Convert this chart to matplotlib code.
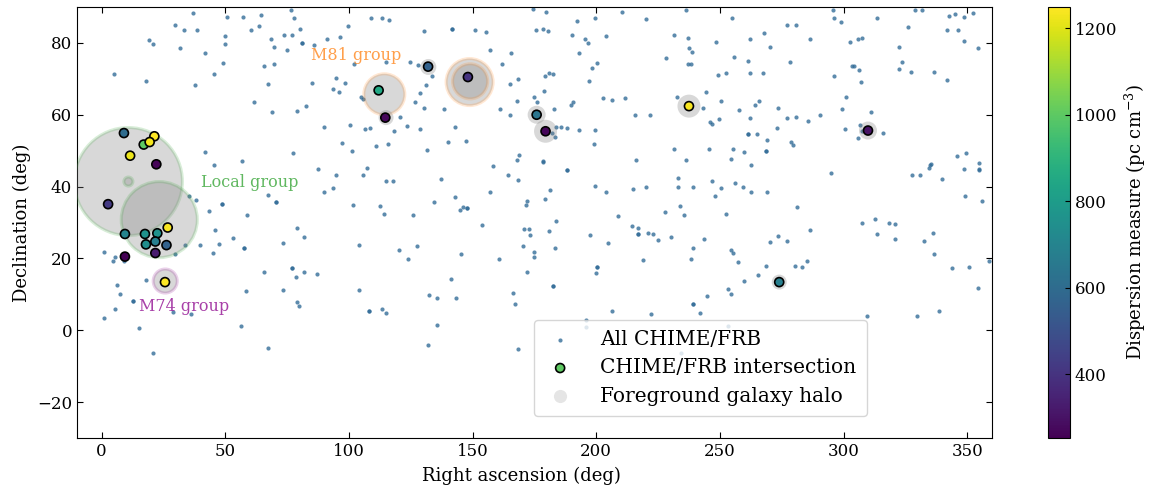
import matplotlib
matplotlib.use('Agg')
import matplotlib.pyplot as plt
from matplotlib.colors import to_rgba

# ---------------- data ----------------
all_ra = [36.8, 50.8, 57.3, 64.3, 29.8, 33.4, 38.7, 50.0, 60.5, 63.8, 19.3, 20.9, 31.8, 41.7, 49.7, 48.9,
          5.1, 18.1, 45.6, 37.7, 61.6, 41.9, 45.4, 56.9, 35.5, 38.3, 48.7, 48.7, 43.4, 58.9, 45.7, 53.2,
          57.6, 57.6, 33.6, 39.6, 47.4, 45.2, 29.7, 1.0, 5.3, 4.5, 9.2, 6.3, 7.3, 17.8, 12.5, 12.5, 5.4,
          0.8, 29.0, 36.1, 58.2, 15.1, 56.3, 20.8,
          76.7, 77.6, 80.1, 73.9, 76.8, 68.3, 81.2, 81.2, 86.0, 91.1, 96.4, 99.6, 69.8, 75.0, 65.5, 69.6,
          108.8, 113.4, 116.3, 130.3, 124.5, 127.8, 115.1, 102.0, 94.8, 93.5, 96.1, 98.3, 85.2, 67.1,
          105.0, 105.8, 133.6, 131.0, 128.9, 126.7, 130.5, 138.3, 68.8, 79.1, 82.5, 89.9, 100.3, 106.5,
          108.4, 120.5, 118.2, 123.6, 128.9, 110.8, 115.9, 131.7, 97.2, 101.1, 77.4, 87.5, 94.9, 105.8,
          107.3, 114.8, 117.8, 137.1, 90.0, 93.4, 67.1, 70.5, 70.5, 101.5, 112.4, 114.3, 125.8, 134.3,
          78.9, 81.7, 73.2, 104.2, 120.2, 124.0, 127.4, 65.8, 77.1, 77.1, 78.6, 81.8, 87.2, 73.2, 104.2,
          132.5, 135.6, 78.9, 79.7, 108.0, 108.0, 113.4, 115.0, 135.5, 67.1, 131.8,
          174.6, 179.8, 141.5, 141.5, 150.8, 155.6, 175.8, 178.6, 180.4, 192.1, 199.5, 210.3, 190.1,
          195.6, 196.7, 203.8, 156.9, 165.4, 193.0, 161.8, 200.3, 198.4, 179.4, 180.8, 182.4, 168.2,
          165.1, 196.9, 178.7, 174.7, 175.9, 190.6, 189.9, 202.7, 206.2, 211.8, 168.1, 161.2, 165.0,
          182.9, 142.9, 183.9, 185.7, 188.2, 193.0, 199.4, 182.1, 183.3, 139.9, 147.5, 198.9, 168.9,
          167.8, 178.5, 178.5, 158.1, 188.3, 188.3, 164.5, 168.2, 199.4, 203.9, 157.2, 181.2, 179.1,
          143.0, 144.9, 146.1, 147.9, 147.9, 172.1, 171.7, 183.9, 208.8, 153.9, 170.9, 172.7, 173.2,
          181.0, 197.6, 204.7, 170.5, 183.5, 145.4, 174.8, 175.0, 160.5, 172.0, 200.4, 200.4, 199.8,
          141.4, 182.5, 182.5, 143.3, 166.5, 167.3, 206.5, 195.9, 195.7, 168.2,
          236.3, 220.1, 255.0, 277.3, 280.9, 231.6, 237.1, 268.0, 262.0, 248.3, 270.4, 237.6, 238.7,
          228.3, 255.7, 261.5, 278.5, 237.1, 238.2, 252.5, 249.1, 262.0, 267.6, 244.5, 232.5, 250.3,
          243.3, 265.9, 264.2, 273.4, 215.5, 221.6, 257.9, 249.6, 246.1, 246.8, 262.0, 277.3, 280.9,
          285.8, 273.2, 261.4, 261.4, 265.0, 269.2, 268.6, 268.6, 278.9, 279.6, 231.4, 245.6, 255.2,
          236.2, 216.2, 254.5, 259.7, 262.7, 233.1, 246.8, 256.2, 259.5, 233.2, 239.0, 220.3, 215.0,
          250.3, 262.6, 269.0, 247.9, 233.7, 235.5, 227.7, 252.3, 281.0, 214.5, 216.9, 216.9, 216.9,
          221.1, 222.8, 225.0, 230.4, 243.7, 239.0, 254.5, 255.4, 257.2, 273.4, 270.4, 277.0, 238.2,
          218.8, 268.5, 280.4, 283.1, 285.4, 265.5, 259.9, 253.3, 254.5, 244.7, 239.3, 239.3, 241.8,
          222.1, 253.3, 234.4,
          295.6, 296.0, 298.8, 286.6, 302.6, 306.0, 307.3, 303.3, 304.4, 306.4, 307.1, 296.1, 301.1,
          299.4, 290.3, 300.5, 311.2, 306.8, 307.5, 306.0, 315.8, 313.5, 326.2, 328.8, 331.7, 322.3,
          323.8, 322.3, 327.4, 336.6, 342.0, 342.0, 346.4, 342.8, 345.1, 348.7, 352.5, 348.7, 354.4,
          295.1, 327.9, 330.8, 335.0, 335.2, 334.7, 339.8, 345.7, 349.4, 348.7, 354.8, 354.9, 354.9,
          349.2, 356.1, 286.3, 307.6, 312.7, 313.7, 318.2, 320.7, 320.9, 332.5, 336.3, 336.7, 344.0,
          350.7, 354.5, 358.8, 309.5, 329.6, 338.6]
all_dec = [88.3, 87.1, 87.3, 87.7, 84.9, 83.6, 83.6, 82.0, 83.5, 84.8, 80.9, 79.8, 78.5, 77.2, 79.6, 74.4,
           71.3, 69.5, 71.3, 68.3, 63.5, 49.7, 46.1, 47.0, 37.5, 36.3, 35.2, 35.2, 33.2, 32.0, 27.9, 25.8,
           22.8, 22.8, 23.7, 23.7, 24.1, 21.4, 21.1, 21.9, 20.5, 19.2, 19.3, 12.7, 10.2, 14.1, 8.2, 8.2, 6.0,
           3.5, 5.1, 4.6, 10.9, 0.6, 1.2, -6.4,
           89.3, 87.0, 83.9, 82.1, 82.2, 81.1, 80.1, 80.1, 79.5, 81.0, 81.6, 84.8, 79.0, 78.1, 73.6, 74.1,
           87.0, 87.0, 86.4, 83.2, 74.8, 73.9, 74.8, 74.1, 70.2, 67.2, 66.2, 68.7, 68.7, 68.6,
           64.9, 64.3, 70.9, 68.4, 66.1, 63.6, 62.0, 61.7, 60.7, 61.1, 62.4, 56.6, 57.1, 56.1,
           56.3, 59.4, 55.6, 56.9, 56.1, 51.3, 51.8, 50.2, 52.1, 49.8, 49.4, 44.8, 43.2, 43.1,
           45.1, 41.6, 41.6, 42.1, 38.6, 39.5, 37.7, 35.7, 35.7, 35.0, 34.6, 32.5, 32.2, 35.8,
           28.4, 25.9, 24.2, 23.8, 22.3, 19.9, 23.4, 16.1, 17.4, 17.4, 14.8, 16.2, 15.7, 11.1, 11.1,
           9.9, 8.9, 7.9, 6.7, 5.3, 5.3, 5.8, 4.9, 1.5, -5.0, -4.1,
           89.4, 88.5, 83.8, 83.8, 83.7, 83.1, 83.7, 84.0, 83.2, 86.1, 87.0, 88.6, 82.3,
           81.0, 80.0, 81.8, 78.1, 77.3, 77.3, 74.2, 74.5, 73.1, 70.9, 71.6, 71.3, 69.9,
           68.5, 69.3, 66.7, 64.9, 63.6, 63.6, 62.8, 64.8, 64.2, 64.6, 63.9, 61.6, 60.0,
           61.6, 56.5, 56.5, 56.5, 56.2, 55.7, 55.7, 55.0, 53.8, 52.3, 52.6, 51.9, 48.8,
           47.3, 47.1, 46.8, 45.7, 44.5, 44.5, 43.1, 41.8, 40.1, 38.4, 38.4, 39.0, 36.6,
           37.0, 33.4, 34.2, 34.0, 34.0, 36.0, 34.9, 30.4, 31.8, 29.3, 28.1, 28.3, 26.4,
           27.6, 26.5, 24.2, 23.4, 23.0, 21.1, 21.7, 20.4, 19.7, 16.2, 17.6, 17.6, 15.8,
           14.4, 12.4, 12.4, 8.9, 10.5, 7.4, 5.3, 2.9, 0.9, -5.1,
           89.3, 86.6, 86.8, 85.0, 85.1, 82.3, 81.3, 82.7, 81.2, 80.3, 78.9, 78.6, 77.5,
           75.7, 76.0, 75.0, 74.8, 74.2, 74.0, 71.7, 71.1, 71.7, 71.7, 66.3, 65.0, 63.9,
           62.0, 63.8, 62.7, 61.9, 60.0, 60.0, 61.2, 58.7, 58.0, 57.5, 59.2, 59.1, 59.5,
           58.3, 56.4, 54.5, 54.5, 54.5, 52.9, 49.8, 49.8, 52.5, 51.6, 50.6, 50.6, 50.6,
           47.3, 47.5, 47.6, 49.5, 45.9, 42.3, 41.5, 40.9, 40.0, 40.0, 40.0, 39.9, 39.4,
           39.7, 38.5, 38.5, 37.4, 34.6, 32.2, 33.0, 32.5, 34.4, 28.9, 28.6, 26.9, 26.9,
           27.2, 26.8, 25.0, 26.0, 25.4, 23.0, 22.4, 21.5, 18.9, 26.3, 24.6, 24.9, 19.9,
           19.5, 18.0, 18.0, 17.5, 19.4, 15.3, 13.6, 11.6, 10.0, 9.4, 7.4, 7.4, 4.7,
           4.4, 1.3, -6.3,
           89.2, 87.0, 85.9, 81.2, 80.3, 81.1, 81.4, 73.6, 73.6, 72.4, 69.1, 70.8, 65.0,
           61.5, 59.9, 56.0, 60.7, 57.1, 55.5, 53.6, 54.8, 86.8, 84.4, 89.3, 89.2, 78.8,
           74.6, 72.8, 72.0, 72.0, 69.8, 83.5, 83.5, 87.5, 88.0, 87.1, 88.4, 80.4, 78.7,
           43.9, 43.1, 43.1, 46.0, 46.2, 45.3, 42.0, 48.6, 49.3, 45.0, 46.6, 45.0, 44.6,
           37.5, 36.0, 28.0, 29.9, 30.9, 26.7, 29.9, 29.6, 25.5, 24.8, 27.1, 21.2, 17.2,
           17.5, 11.7, 19.4, 4.0, 4.0, 5.4]

frb_ra = [17.0, 9.0, 21.3, 19.4, 11.5, 22.1, 2.6, 9.4, 17.5, 22.5, 26.7, 17.9, 21.7, 26.2, 21.7, 9.4,
          25.6, 112.0, 114.7, 132.0, 148.1, 175.9, 179.5, 237.5, 274.0, 309.9]
frb_dec = [51.7, 54.9, 54.0, 52.4, 48.6, 46.2, 35.1, 26.8, 26.8, 27.0, 28.6, 23.9, 24.7, 23.7, 21.5, 20.5,
           13.4, 66.8, 59.2, 73.4, 70.5, 60.0, 55.4, 62.4, 13.4, 55.6]
frb_dm = [1000, 600, 1249, 1230, 1220, 262, 420, 700, 760, 760, 1240, 740, 680, 560, 330, 252,
          1249, 850, 270, 560, 400, 640, 265, 1240, 680, 300]

halo_ra = [10.8, 10.8, 23.3, 25.7, 114.3, 148.8, 149.0, 132.1, 115.0, 175.9, 179.5, 237.5, 274.0, 309.9]
halo_dec = [41.4, 41.4, 30.8, 13.7, 65.7, 69.1, 69.3, 73.3, 59.2, 60.0, 55.4, 62.4, 13.4, 55.6]
halo_size = [6050, 42, 3000, 300, 870, 1145, 640, 133, 117, 168, 274, 274, 117, 168]
halo_group = ['Local', 'Local', 'Local', 'M74', 'M81', 'M81', 'M81', '', '', '', '', '', '', '']

group_names = ['Local group', 'M81 group', 'M74 group']
group_label_ra = [40.0, 84.5, 15.0]
group_label_dec = [41.2, 76.6, 6.6]

# ---------------- style ----------------
plt.rcParams['font.family'] = 'DejaVu Serif'
plt.rcParams['mathtext.fontset'] = 'dejavuserif'
group_colors = {'Local': '#2ca02c', 'M81': '#ff7f0e', 'M74': '#8b008b', '': 'none'}

fig = plt.figure(figsize=(11.52, 4.86), dpi=100)
ax = fig.add_axes([0.0668, 0.0988, 0.7942, 0.8868])
cax = fig.add_axes([0.9097, 0.0988, 0.0191, 0.8868])

bg = ax.scatter(all_ra, all_dec, s=9, color='#2f6a96', alpha=0.78, linewidths=0,
                label='All CHIME/FRB', zorder=2)

face = [to_rgba('grey', 0.3)] * len(halo_ra)
edge = [to_rgba(group_colors[g], 0.18) if g else (0, 0, 0, 0) for g in halo_group]
ax.scatter(halo_ra, halo_dec, s=halo_size, facecolors=face, edgecolors=edge,
           linewidths=2.2, zorder=3)
halo_proxy = ax.scatter([], [], s=90, color='grey', alpha=0.2, linewidths=0,
                        label='Foreground galaxy halo')

sc = ax.scatter(frb_ra, frb_dec, c=frb_dm, cmap='viridis', s=42, edgecolors='black',
                linewidths=1.2, label='CHIME/FRB intersection', zorder=5)

label_colors = ['#2ca02c', '#ff7f0e', '#8b008b']
for name, x, y, c in zip(group_names, group_label_ra, group_label_dec, label_colors):
    ax.text(x, y, name, color=c, alpha=0.75, fontsize=11.5, va='center', ha='left', zorder=6)

ax.set_xlim(-10, 360)
ax.set_ylim(-30, 90)
ax.set_xlabel('Right ascension (deg)', fontsize=13)
ax.set_ylabel('Declination (deg)', fontsize=13)
ax.xaxis.set_label_coords(0.486, -0.066)
ax.tick_params(direction='in', top=True, right=True, labelsize=12, length=4)

leg = ax.legend(handles=[bg, sc, halo_proxy], loc='lower left', bbox_to_anchor=(0.4885, 0.028),
                fontsize=14.5, frameon=True, handletextpad=1.2, handlelength=1.6,
                borderpad=0.5, labelspacing=0.47)

cb = fig.colorbar(sc, cax=cax)
cb.set_label('Dispersion measure (pc cm$^{-3}$)', fontsize=13)
cb.ax.tick_params(labelsize=12, direction='in')

fig.savefig('out.png', dpi=100)
